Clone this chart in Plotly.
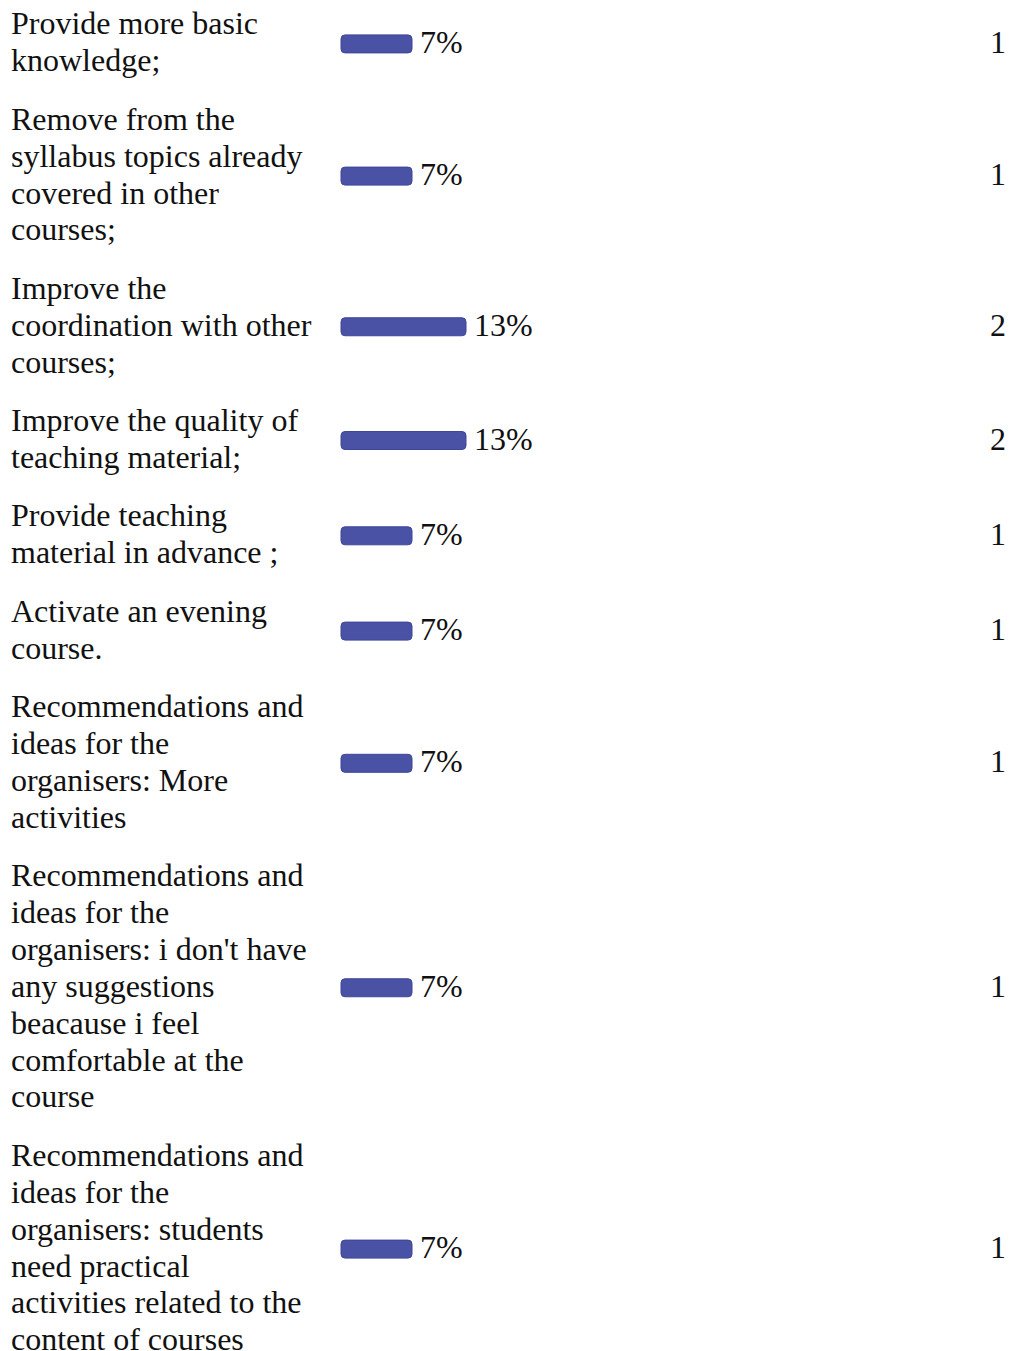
import plotly.graph_objects as go

labels = [
    ["Provide more basic", "knowledge;"],
    ["Remove from the", "syllabus topics already", "covered in other", "courses;"],
    ["Improve the", "coordination with other", "courses;"],
    ["Improve the quality of", "teaching material;"],
    ["Provide teaching", "material in advance ;"],
    ["Activate an evening", "course."],
    ["Recommendations and", "ideas for the", "organisers: More", "activities"],
    ["Recommendations and", "ideas for the", "organisers: i don't have", "any suggestions",
     "beacause i feel", "comfortable at the", "course"],
    ["Recommendations and", "ideas for the", "organisers: students", "need practical",
     "activities related to the", "content of courses"],
]
percents = [7, 7, 13, 13, 7, 7, 7, 7, 7]
counts = [1, 1, 2, 2, 1, 1, 1, 1, 1]

W, H = 1010, 1351

LINE_H = 36.9
ROW_PAD = 21.5
TOP = -5.75
FONT = dict(family="Liberation Serif, Times New Roman, serif", size=32, color="#111111")

# row centers derived from number of text lines in each label
centers = []
y = TOP
for lines in labels:
    h = len(lines) * LINE_H + ROW_PAD
    centers.append(y + h / 2)
    y += h

PX_PER_UNIT = 54.0
ZERO_PX = 358.0
CAP = 17.0 / PX_PER_UNIT
x_range = [-ZERO_PX / PX_PER_UNIT, (W - ZERO_PX) / PX_PER_UNIT]

fig = go.Figure()
fig.add_trace(go.Bar(
    orientation="h",
    x=[c + CAP for c in counts],
    base=[-CAP] * len(counts),
    y=[c + 2 for c in centers],
    width=18,
    marker=dict(color="#4a52a6", line=dict(color="#3f4697", width=1)),
    hoverinfo="skip",
))

annotations = []
for lines, pct, cnt, cy in zip(labels, percents, counts, centers):
    n = len(lines)
    for i, line in enumerate(lines):
        annotations.append(dict(
            text=line, xref="paper", yref="y", x=9 / W,
            y=cy + (i - (n - 1) / 2) * LINE_H,
            xanchor="left", yanchor="middle", align="left", showarrow=False, font=FONT,
        ))
    annotations.append(dict(
        text=f"{pct}%", xref="x", yref="y", x=cnt, y=cy, xshift=6,
        xanchor="left", yanchor="middle", showarrow=False, font=FONT,
    ))
    annotations.append(dict(
        text=str(cnt), xref="paper", yref="y", x=1008 / W, y=cy,
        xanchor="right", yanchor="middle", showarrow=False, font=FONT,
    ))

fig.update_layout(
    width=W, height=H,
    margin=dict(l=0, r=0, t=0, b=0),
    paper_bgcolor="white", plot_bgcolor="white",
    showlegend=False,
    barcornerradius=4,
    xaxis=dict(range=x_range, visible=False, fixedrange=True),
    yaxis=dict(range=[H, 0], visible=False, fixedrange=True),
    annotations=annotations,
)

fig.write_html(
    "out.html",
    config={"displayModeBar": False},
    post_script="document.body.style.margin='0';document.body.style.overflow='hidden';",
)
